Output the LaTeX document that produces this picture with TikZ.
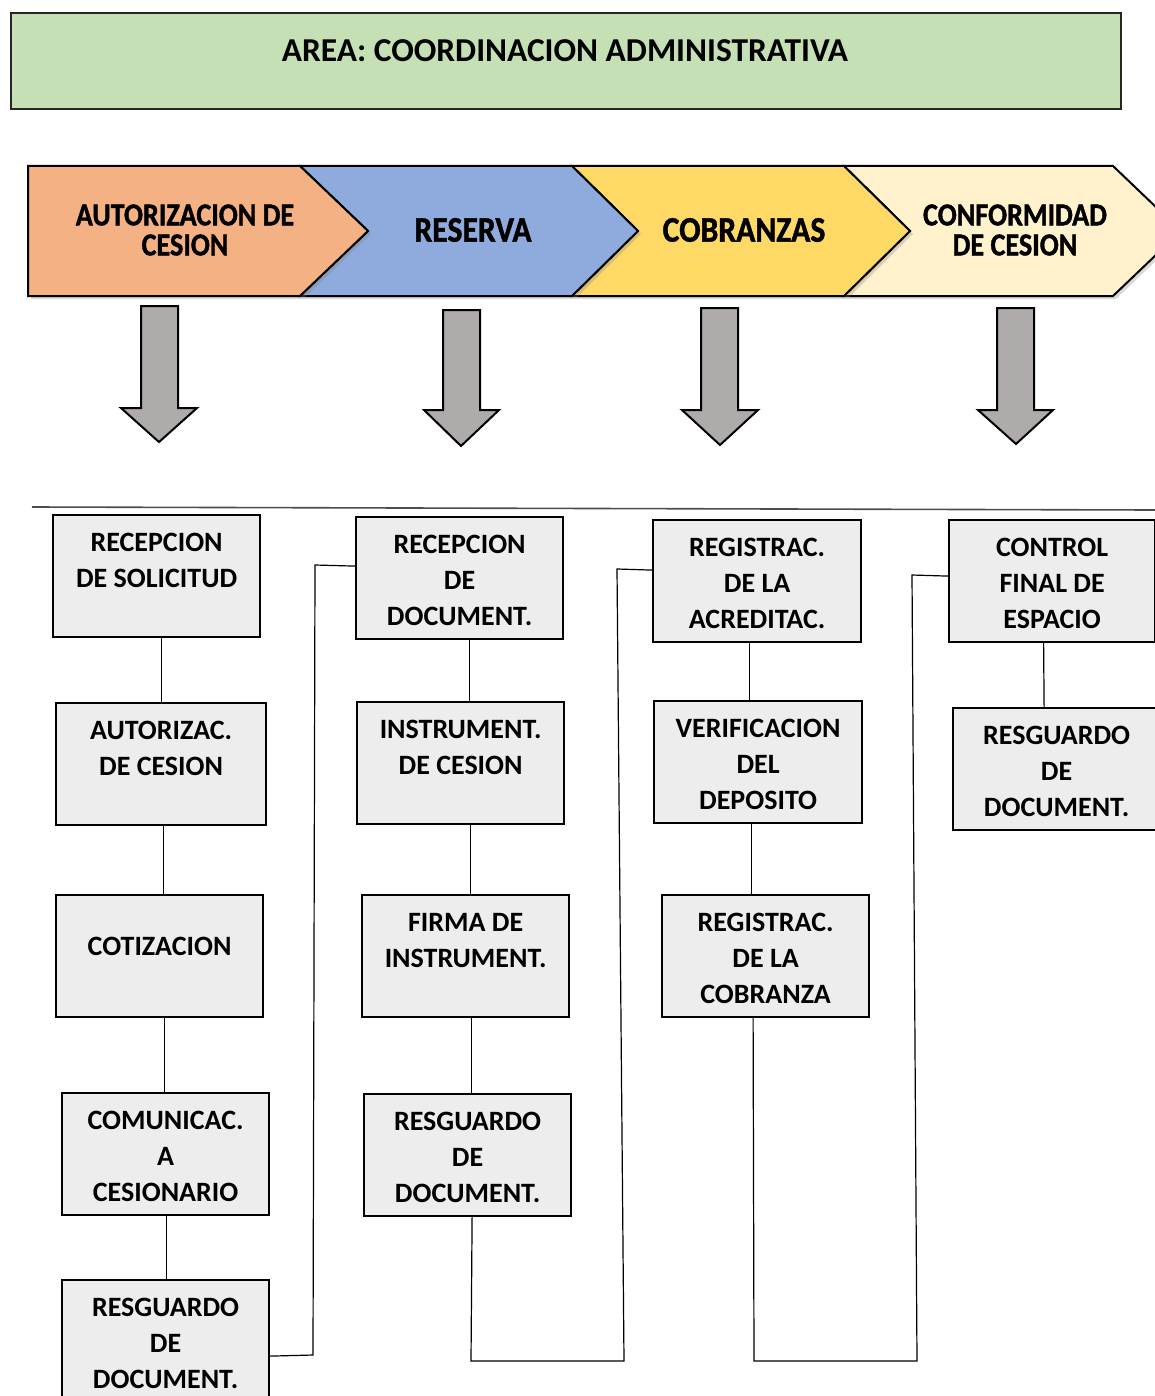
\documentclass[tikz,border=0pt]{standalone}
\usepackage{fontspec}
\setmainfont{Carlito}
\newfontfamily\chevfont{Carlito}[FakeStretch=0.88,FakeBold=1.2]
\usetikzlibrary{shadows,calc}
\definecolor{titlegreen}{HTML}{C5E0B4}
\definecolor{chevorange}{HTML}{F4B183}
\definecolor{chevblue}{HTML}{8FAADC}
\definecolor{chevyellow}{HTML}{FFD966}
\definecolor{chevcream}{HTML}{FFF2CC}
\definecolor{boxgray}{HTML}{EDEDED}
\definecolor{arrowgray}{HTML}{AFABAB}
\tikzset{
  titlebox/.style={draw=black!85, line width=1.1pt, fill=titlegreen, anchor=north west, inner sep=0},
  chev/.style={draw=black, line width=1pt, line join=miter, drop shadow={shadow xshift=1.5pt, shadow yshift=-1.5pt, opacity=0.3}},
  chevtxt/.style={align=center, inner sep=0},
  downarrow/.style={draw=black, line width=1pt, fill=arrowgray, line join=miter},
  procbox/.style={draw=black, line width=1.1pt, fill=boxgray, minimum width=103.5pt, minimum height=61pt, anchor=north west, inner sep=0},
  boxtxt/.style={anchor=north, inner sep=0, align=center, font=\bfseries\fontsize{14}{18}\selectfont},
  link/.style={draw=black, line width=0.6pt},
}
\begin{document}
\begin{tikzpicture}[x=0.5pt,y=-0.5pt]
\useasboundingbox (0,0) rectangle (1155,1396);
\clip (0,0) rectangle (1155,1396);

% title
\node[titlebox, minimum width=555pt, minimum height=48pt] (title) at (10,12) {};
\node[font=\bfseries\fontsize{16.7}{20}\selectfont] (titletxt) at (565,51) {AREA: COORDINACION ADMINISTRATIVA};

% chevrons (back to front)
\path[chev, fill=chevcream] (844,166) -- (1113,166) -- (1181,231) -- (1113,296) -- (844,296) -- (910,231) -- cycle;
\path[chev, fill=chevyellow] (572,166) -- (844,166) -- (910,231) -- (844,296) -- (572,296) -- (638,231) -- cycle;
\path[chev, fill=chevblue] (300,166) -- (572,166) -- (638,231) -- (572,296) -- (300,296) -- (368,231) -- cycle;
\path[chev, fill=chevorange] (28,166) -- (300,166) -- (368,231) -- (300,296) -- (28,296) -- cycle;

\node[chevtxt, font=\chevfont\bfseries\fontsize{16}{15}\selectfont] (c1t) at (185,230) {AUTORIZACION DE\\CESION};
\node[chevtxt, font=\chevfont\bfseries\fontsize{18}{15}\selectfont] (c2t) at (473,230) {RESERVA};
\node[chevtxt, font=\chevfont\bfseries\fontsize{18}{15}\selectfont] (c3t) at (744,230) {COBRANZAS};
\node[chevtxt, font=\chevfont\bfseries\fontsize{16}{15}\selectfont] (c4t) at (1015,230) {CONFORMIDAD\\DE CESION};

% down arrows
\path[downarrow] (141,306) -- (178,306) -- (178,408) -- (197,408) -- (159,442) -- (121,408) -- (141,408) -- cycle;
\path[downarrow] (443,310) -- (480,310) -- (480,410) -- (499,410) -- (461,446) -- (424,410) -- (443,410) -- cycle;
\path[downarrow] (701,308) -- (738,308) -- (738,410) -- (758,410) -- (720,445) -- (682,410) -- (701,410) -- cycle;
\path[downarrow] (997,308) -- (1034,308) -- (1034,410) -- (1053,410) -- (1016,444) -- (978,410) -- (997,410) -- cycle;

% separator
\draw[line width=0.8pt, draw=black!70] (32,507) -- (1155,510);

% column 1
\node[procbox] (b1) at (52,514) {};
\node[procbox, minimum width=105pt] (b2) at (55,702) {};
\node[procbox] (b3) at (55,894) {};
\node[procbox] (b4) at (61,1092) {};
\node[procbox] (b5) at (61,1279) {};
% column 2
\node[procbox] (b6) at (355,516) {};
\node[procbox] (b7) at (356,701) {};
\node[procbox] (b8) at (361,894) {};
\node[procbox] (b9) at (363,1093) {};
% column 3
\node[procbox, minimum width=104pt] (b10) at (652,519) {};
\node[procbox, minimum width=104pt] (b11) at (653,700) {};
\node[procbox] (b12) at (661,894) {};
% column 4
\node[procbox, minimum width=103pt] (b13) at (948,519) {};
\node[procbox] (b14) at (952,707) {};

% texts
\node[boxtxt] (t1) at ([yshift=-9.5pt]b1.north) {RECEPCION\\DE SOLICITUD};
\node[boxtxt] (t2) at ([yshift=-9.5pt]b2.north) {AUTORIZAC.\\DE CESION};
\node[boxtxt] (t3) at ([yshift=-21.5pt]b3.north) {COTIZACION};
\node[boxtxt] (t4) at ([yshift=-9.5pt]b4.north) {COMUNICAC.\\A\\CESIONARIO};
\node[boxtxt] (t5) at ([yshift=-9.5pt]b5.north) {RESGUARDO\\DE\\DOCUMENT.};
\node[boxtxt] (t6) at ([yshift=-9.5pt]b6.north) {RECEPCION\\DE\\DOCUMENT.};
\node[boxtxt] (t7) at ([yshift=-9.5pt]b7.north) {INSTRUMENT.\\DE CESION};
\node[boxtxt] (t8) at ([yshift=-9.5pt]b8.north) {FIRMA DE\\INSTRUMENT.};
\node[boxtxt] (t9) at ([yshift=-9.5pt]b9.north) {RESGUARDO\\DE\\DOCUMENT.};
\node[boxtxt] (t10) at ([yshift=-9.5pt]b10.north) {REGISTRAC.\\DE LA\\ACREDITAC.};
\node[boxtxt] (t11) at ([yshift=-9.5pt]b11.north) {VERIFICACION\\DEL\\DEPOSITO};
\node[boxtxt] (t12) at ([yshift=-9.5pt]b12.north) {REGISTRAC.\\DE LA\\COBRANZA};
\node[boxtxt] (t13) at ([yshift=-9.5pt]b13.north) {CONTROL\\FINAL DE\\ESPACIO};
\node[boxtxt] (t14) at ([yshift=-9.5pt]b14.north) {RESGUARDO\\DE\\DOCUMENT.};

% connectors column 1
\draw[link] ([xshift=2.25pt]b1.south) -- (b2.north);
\draw[link] ([xshift=1pt]b2.south) -- ([xshift=1.75pt]b3.north);
\draw[link] ([xshift=2.25pt]b3.south) -- ([xshift=-0.75pt]b4.north);
\draw[link] ([xshift=0.25pt]b4.south) -- ([xshift=0.25pt]b5.north);
\draw[link] ([yshift=-7.5pt]b5.east) -- (313,1355) -- (315,565) -- ([yshift=6pt]b6.west);
% column 2
\draw[link] ([xshift=4.75pt]b6.south) -- ([xshift=4.25pt]b7.north);
\draw[link] ([xshift=4.75pt]b7.south) -- ([xshift=2.25pt]b8.north);
\draw[link] ([xshift=2.75pt]b8.south) -- ([xshift=1.75pt]b9.north);
\draw[link] ([xshift=2.25pt]b9.south) -- (471,1361) -- (624,1361) -- (617,569) -- ([yshift=5.5pt]b10.west);
% column 3
\draw[link] ([xshift=-4pt]b10.south) -- ([xshift=-4.5pt]b11.north);
\draw[link] ([xshift=-3.5pt]b11.south) -- ([xshift=-7.25pt]b12.north);
\draw[link] ([xshift=-6.25pt]b12.south) -- (754,1361) -- (917,1361) -- (912,575) -- ([yshift=2.5pt]b13.west);
% column 4
\draw[link] ([xshift=-4.25pt]b13.south) -- ([xshift=-6.25pt]b14.north);
\end{tikzpicture}
\end{document}
